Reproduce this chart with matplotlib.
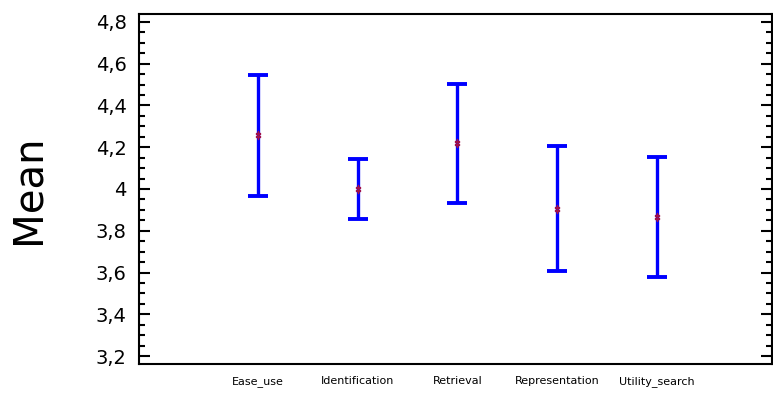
import numpy as np
import matplotlib
matplotlib.use('Agg')
import matplotlib.pyplot as plt
from matplotlib.ticker import MultipleLocator, FuncFormatter

categories = ['Ease_use', 'Identification', 'Retrieval', 'Representation', 'Utility_search']
means = [4.26, 4.00, 4.22, 3.905, 3.866]
upper = [4.546, 4.144, 4.503, 4.206, 4.153]
lower = [3.966, 3.856, 3.933, 3.607, 3.578]

means = np.array(means)
err = [means - np.array(lower), np.array(upper) - means]
x = np.arange(len(categories))

plt.rcParams['font.family'] = 'DejaVu Sans'
fig = plt.figure(figsize=(7.73, 3.93), dpi=100)
ax = fig.add_axes([0.1798, 0.0738, 0.8189, 0.8906])

ax.errorbar(x, means, yerr=err, fmt='none', ecolor='#0000ff',
            elinewidth=2.4, capsize=7.2, capthick=2.8)
ax.plot(x, means, linestyle='none', marker='$\\ddagger$', markersize=6,
        color='#a0104a')

ax.set_xlim(-1.19, 5.15)
ax.set_ylim(3.162, 4.838)
ax.yaxis.set_major_locator(MultipleLocator(0.2))
ax.yaxis.set_minor_locator(MultipleLocator(0.05))

def fmt(v, pos):
    s = f'{v:.1f}'.rstrip('0').rstrip('.')
    return s.replace('.', ',')

ax.yaxis.set_major_formatter(FuncFormatter(fmt))
ax.tick_params(axis='y', which='major', direction='in', length=8, width=1.5,
               left=True, right=True, labelsize=14, pad=9)
ax.tick_params(axis='y', which='minor', direction='in', length=4.5, width=1.5,
               left=True, right=True)

ax.set_xticks(x)
ax.set_xticklabels(categories)
ax.tick_params(axis='x', length=0, labelsize=8, pad=9)

for sp in ax.spines.values():
    sp.set_linewidth(1.5)

ax.set_ylabel('Mean', fontsize=29, labelpad=34)

fig.savefig('out.png', dpi=100)
